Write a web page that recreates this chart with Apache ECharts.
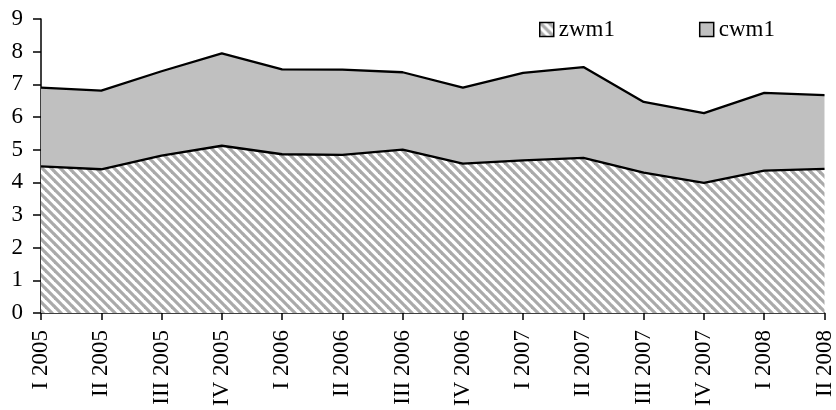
<!DOCTYPE html>
<html><head><meta charset="utf-8">
<script src="https://cdn.jsdelivr.net/npm/echarts@6/dist/echarts.min.js"></script>
<style>html,body{margin:0;padding:0;background:#fff}#c{width:836px;height:410px}</style>
</head><body><div id="c"></div>
<script>
const categories = ['I 2005','II 2005','III 2005','IV 2005','I 2006','II 2006','III 2006','IV 2006','I 2007','II 2007','III 2007','IV 2007','I 2008','II 2008'];
const zwm1 = [4.49, 4.40, 4.82, 5.12, 4.86, 4.84, 5.00, 4.57, 4.67, 4.75, 4.30, 3.98, 4.36, 4.41];
const cwm1 = [2.41, 2.41, 2.58, 2.83, 2.60, 2.61, 2.37, 2.33, 2.68, 2.78, 2.16, 2.14, 2.38, 2.26];

function hatch(){
  const s = 9, cv = document.createElement('canvas');
  cv.width = s; cv.height = s;
  const g = cv.getContext('2d');
  g.fillStyle = '#fff'; g.fillRect(0,0,s,s);
  g.strokeStyle = '#aaaaaa'; g.lineWidth = 3.2;
  for (const k of [-s, 0, s]) { g.beginPath(); g.moveTo(k-1,-1); g.lineTo(k+s+1,s+1); g.stroke(); }
  return cv;
}
const pat = {image: hatch(), repeat: 'repeat'};
const font = "'Liberation Serif', 'Times New Roman', serif";
const chart = echarts.init(document.getElementById('c'), null, {renderer:'canvas'});
chart.setOption({
  animation:false,
  grid:{left:41,right:7,top:19,bottom:97},
  legend:{
    top:13, left:534, itemGap:84, itemWidth:14, itemHeight:14, icon:'rect',
    textStyle:{fontFamily:font, fontSize:23, color:'#000', padding:[0,0,0,0]},
    itemStyle:{borderColor:'#000', borderWidth:1.5},
    data:['zwm1','cwm1']
  },
  xAxis:{
    type:'category', data:categories, boundaryGap:false,
    axisLine:{lineStyle:{color:'#000', width:1.5}},
    axisTick:{alignWithLabel:true, length:7, lineStyle:{color:'#000', width:1.5}},
    axisLabel:{rotate:90, interval:0, fontFamily:font, fontSize:23, color:'#000', margin:17},
    splitLine:{show:false}
  },
  yAxis:{
    type:'value', min:0, max:9, interval:1,
    axisLine:{show:true, lineStyle:{color:'#000', width:1.5}},
    axisTick:{show:true, length:8, lineStyle:{color:'#000', width:1.5}},
    axisLabel:{fontFamily:font, fontSize:23, color:'#000', margin:18},
    splitLine:{show:false}
  },
  series:[
    {name:'zwm1', type:'line', stack:'s', data:zwm1, showSymbol:false, symbol:'none',
     lineStyle:{color:'#000', width:2.3}, itemStyle:{color:pat, borderColor:'#000'},
     areaStyle:{color:pat, opacity:1}},
    {name:'cwm1', type:'line', stack:'s', data:cwm1, showSymbol:false, symbol:'none',
     lineStyle:{color:'#000', width:2.3}, itemStyle:{color:'#c0c0c0', borderColor:'#000'},
     areaStyle:{color:'#c0c0c0', opacity:1}}
  ]
});
</script></body></html>
